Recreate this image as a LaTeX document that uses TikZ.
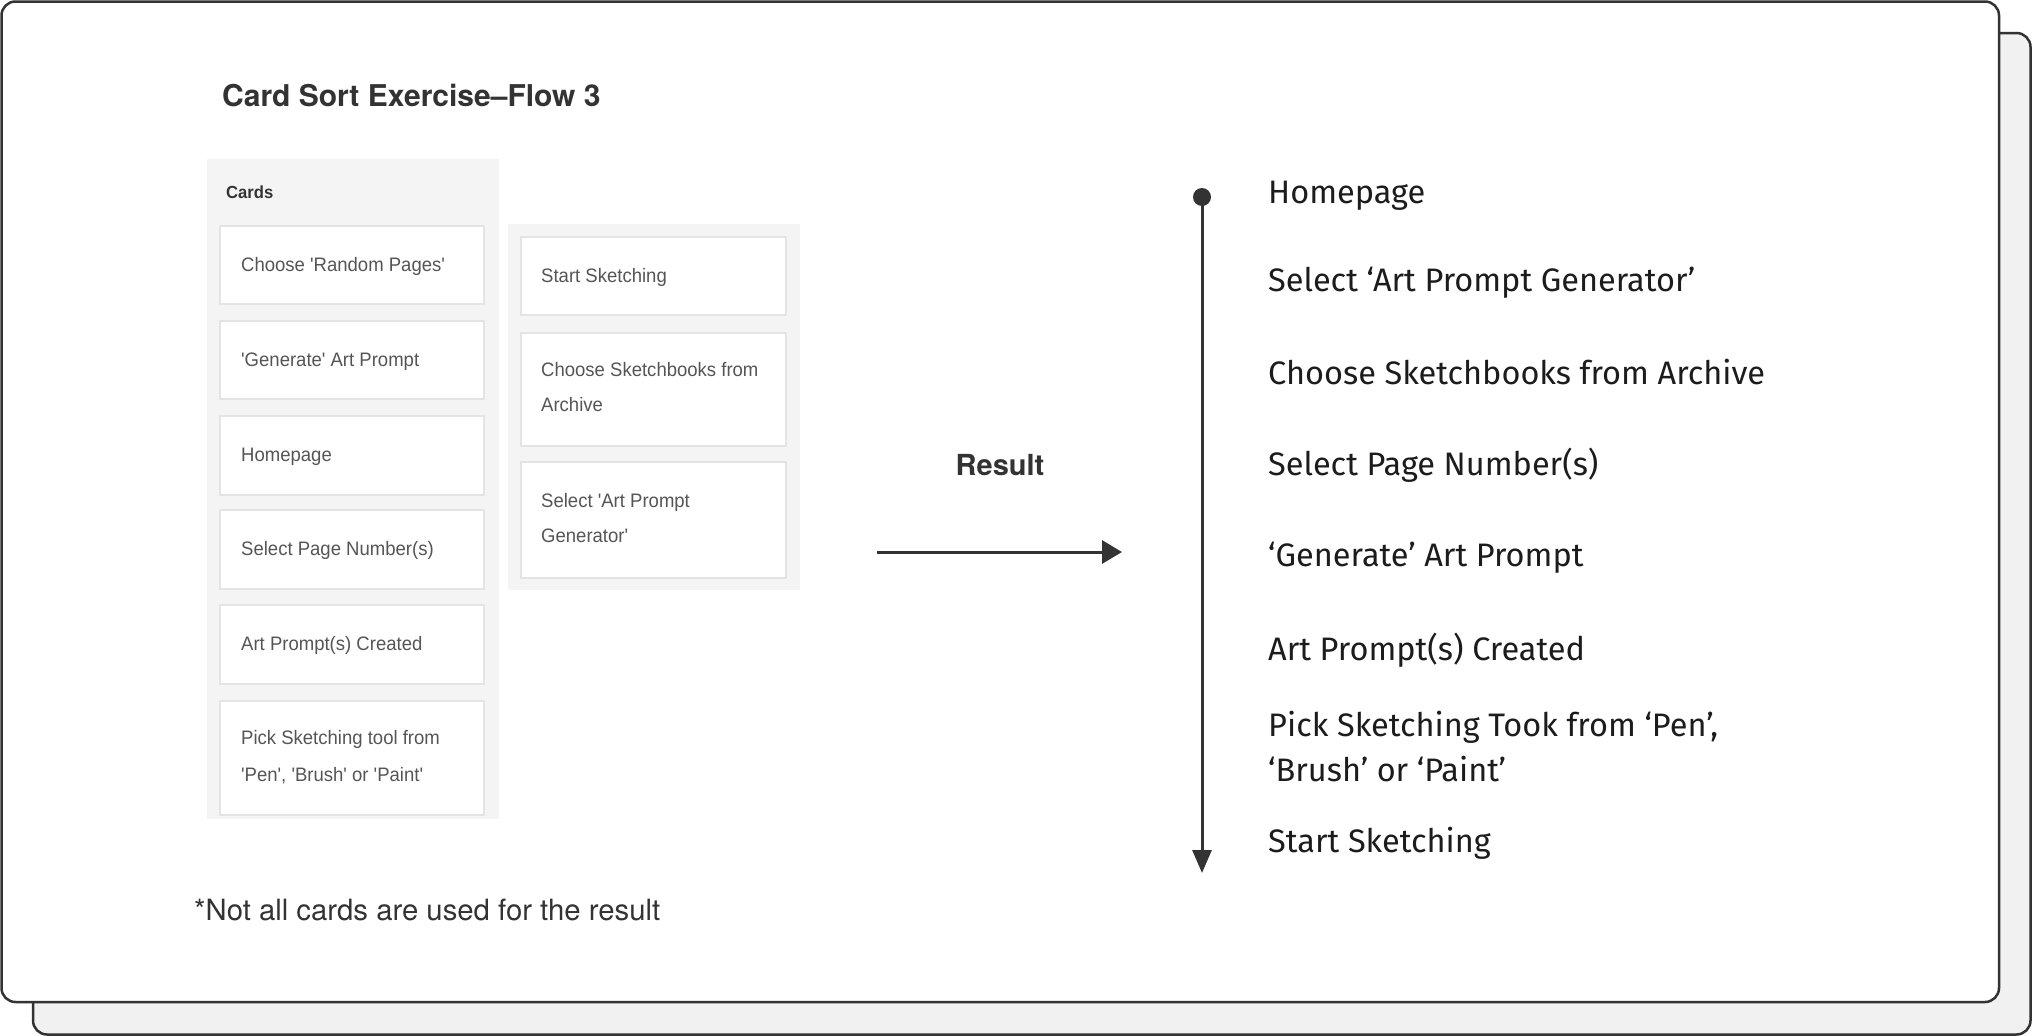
\documentclass[tikz,border=0pt]{standalone}
\usepackage{fontspec}
\usetikzlibrary{arrows.meta}
\newfontfamily\headfont{TeX Gyre Heros}
\newfontfamily\cardfont[FakeStretch=0.95,Ligatures=TeXOff]{Liberation Sans}
\newfontfamily\flowfont{Fira Sans}
\definecolor{outline}{HTML}{333333}
\definecolor{backfill}{HTML}{F1F1F1}
\definecolor{panelfill}{HTML}{F4F4F4}
\definecolor{cardline}{HTML}{E4E4E4}
\definecolor{cardtext}{HTML}{555555}
\definecolor{flowtext}{HTML}{1C1C1C}
\tikzset{
  sheet/.style={draw=outline, line width=2.5pt, rounded corners=14pt},
  panelbox/.style={fill=panelfill, draw=none, anchor=north west, inner sep=0pt, minimum width=292pt},
  cardbox/.style={draw=cardline, fill=white, line width=2pt, anchor=north west, inner sep=0pt, minimum width=264pt},
  cardtxt/.style={anchor=base west, inner sep=0pt, text=cardtext, font=\cardfont\fontsize{19.5}{24}\selectfont},
  flowtxt/.style={anchor=base west, inner sep=0pt, text=flowtext, font=\flowfont\fontsize{32.5}{38}\selectfont},
  conn/.style={draw=outline, line width=3pt},
}
\begin{document}
\begin{tikzpicture}[x=1pt,y=-1pt]
\useasboundingbox (0,0) rectangle (2032,1036);
% sheets
\draw[sheet, fill=backfill] (33,33) rectangle (2030.5,1034.5);
\draw[sheet, fill=white] (1.5,1.5) rectangle (1999,1002);
% title
\node[anchor=base west, inner sep=0pt, text=outline, font=\headfont\bfseries\fontsize{30}{36}\selectfont] (title) at (222,106) {Card Sort Exercise–Flow 3};
% panels
\node[panelbox, minimum height=660pt] (lp) at (207,159) {};
\node[panelbox, minimum height=366pt] (rp) at (508,224) {};
\node[anchor=base west, inner sep=0pt, text=outline, font=\cardfont\bfseries\fontsize{17.5}{20}\selectfont] (cards) at (226,198) {Cards};
% left cards
\node[cardbox, minimum height=78pt] (c1) at (219,225) {};
\node[cardbox, minimum height=78pt] (c2) at (219,320) {};
\node[cardbox, minimum height=79pt] (c3) at (219,415) {};
\node[cardbox, minimum height=79pt] (c4) at (219,509) {};
\node[cardbox, minimum height=79pt] (c5) at (219,604) {};
\node[cardbox, minimum height=114pt] (c6) at (219,700) {};
\node[cardtxt] (t1) at (241,271) {Choose 'Random Pages'};
\node[cardtxt] (t2) at (241,366) {'Generate' Art Prompt};
\node[cardtxt] (t3) at (241,461) {Homepage};
\node[cardtxt] (t4) at (241,555) {Select Page Number(s)};
\node[cardtxt] (t5) at (241,650) {Art Prompt(s) Created};
\node[cardtxt] (t6a) at (241,744) {Pick Sketching tool from};
\node[cardtxt] (t6b) at (241,781) {'Pen', 'Brush' or 'Paint'};
% right cards
\node[cardbox, minimum width=265pt, minimum height=78pt] (r1) at (520,236) {};
\node[cardbox, minimum width=265pt, minimum height=113pt] (r2) at (520,332) {};
\node[cardbox, minimum width=265pt, minimum height=116pt] (r3) at (520,461) {};
\node[cardtxt] (s1) at (541,282) {Start Sketching};
\node[cardtxt] (s2a) at (541,376) {Choose Sketchbooks from};
\node[cardtxt] (s2b) at (541,411) {Archive};
\node[cardtxt] (s3a) at (541,507) {Select 'Art Prompt};
\node[cardtxt] (s3b) at (541,542) {Generator'};
% result arrow
\node[anchor=base, inner sep=0pt, text=outline, font=\headfont\bfseries\fontsize{29}{34}\selectfont] (result) at (1000,475) {Result};
\coordinate (a0) at (877,552);
\coordinate (a1) at (1122,552);
\draw[conn, -{Triangle[length=20pt,width=23pt]}] (a0) -- (a1);
% timeline
\node[circle, fill=outline, minimum size=18pt, inner sep=0pt] (dot) at (1202,197) {};
\coordinate (tend) at (1202,873);
\draw[conn, -{Triangle[length=23pt,width=19pt]}] (dot.center) -- (tend);
\node[flowtxt] (f1) at (1268,203) {Homepage};
\node[flowtxt] (f2) at (1268,291) {Select ‘Art Prompt Generator’};
\node[flowtxt] (f3) at (1268,384) {Choose Sketchbooks from Archive};
\node[flowtxt] (f4) at (1268,475) {Select Page Number(s)};
\node[flowtxt] (f5) at (1268,566) {‘Generate’ Art Prompt};
\node[flowtxt] (f6) at (1268,660) {Art Prompt(s) Created};
\node[flowtxt] (f7a) at (1268,736) {Pick Sketching Took from ‘Pen’,};
\node[flowtxt] (f7b) at (1268,781) {‘Brush’ or ‘Paint’};
\node[flowtxt] (f8) at (1268,852) {Start Sketching};
% footnote
\node[anchor=base west, inner sep=0pt, text=outline, font=\headfont\fontsize{29.3}{34}\selectfont] (note) at (194,920) {*Not all cards are used for the result};
\end{tikzpicture}
\end{document}
